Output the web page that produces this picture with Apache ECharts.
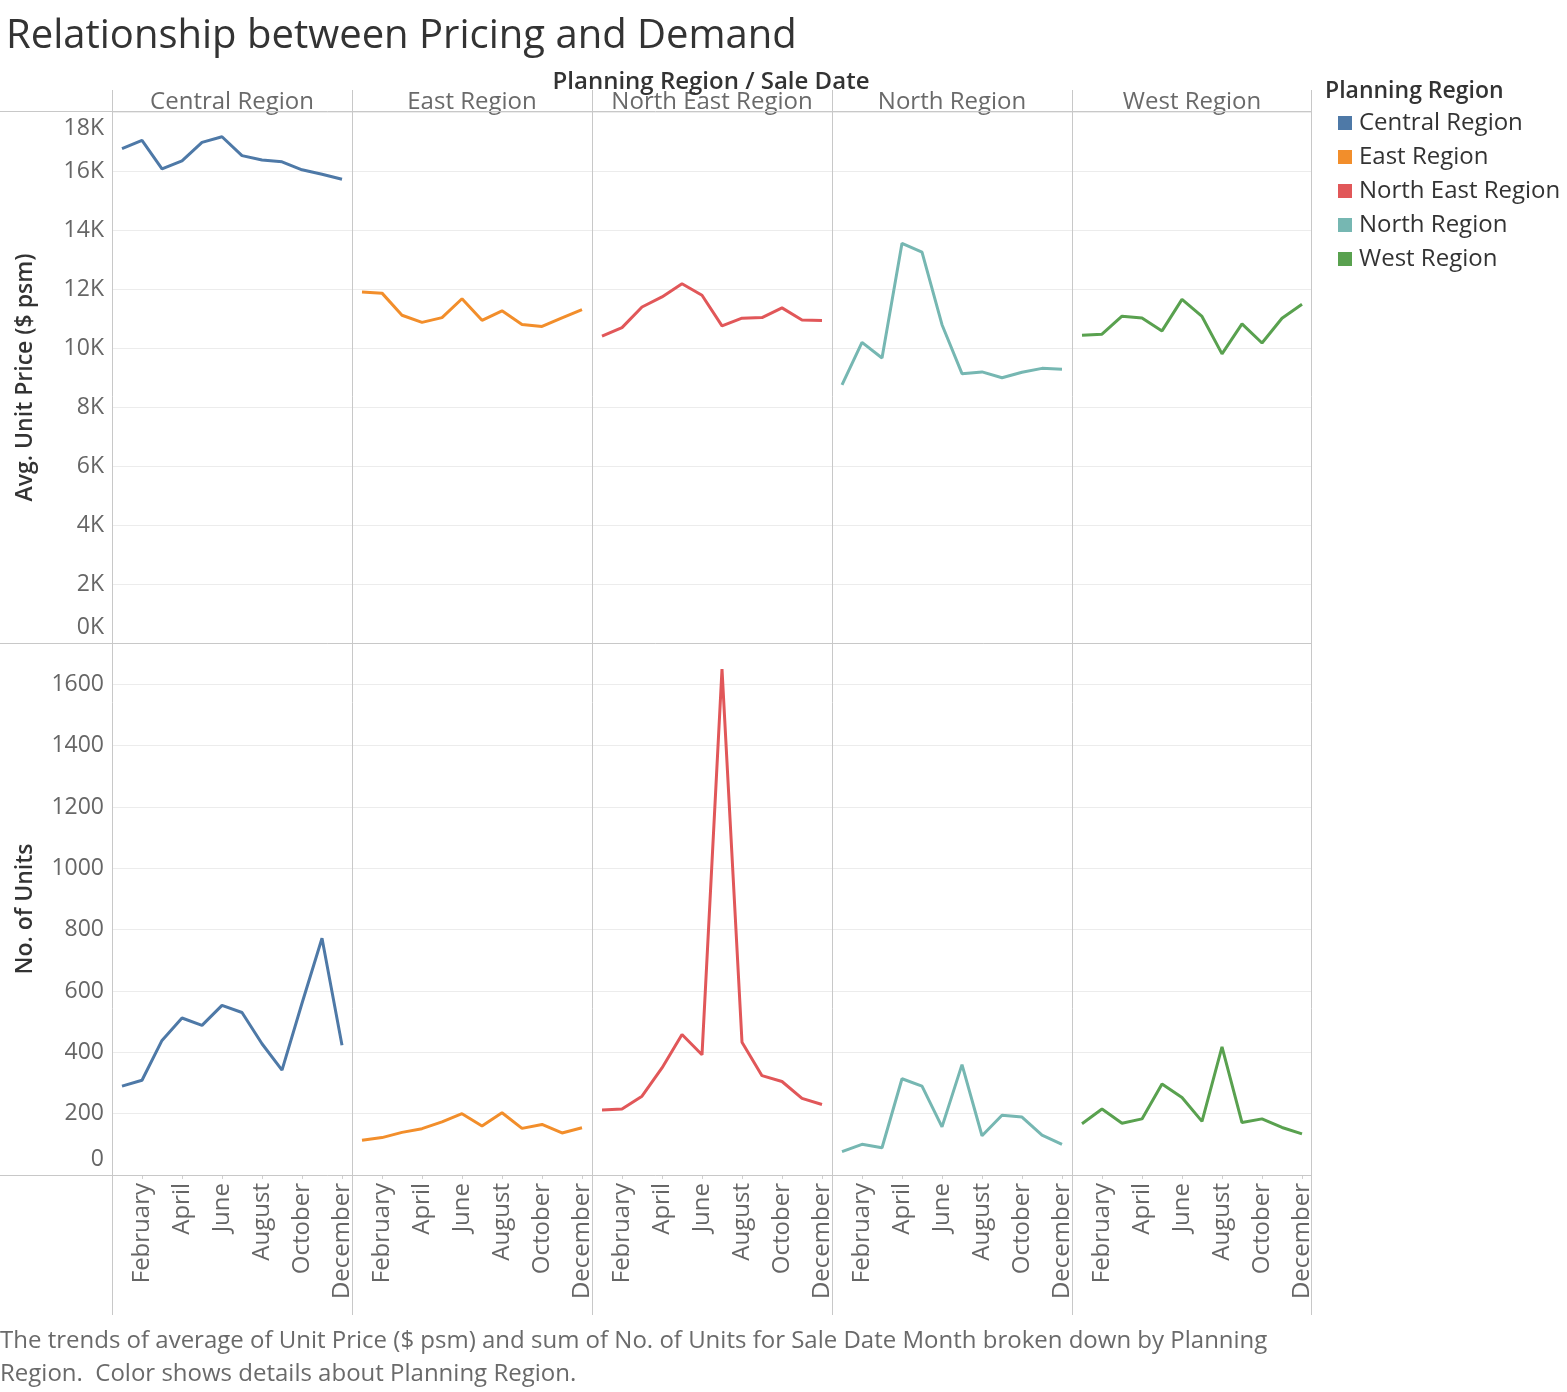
<!DOCTYPE html>
<html>
<head>
<meta charset="utf-8">
<script src="https://cdn.jsdelivr.net/npm/echarts@6/dist/echarts.min.js"></script>
<style>
html,body{margin:0;padding:0;background:#fff;}
#chart{width:1567px;height:1392px;}
</style>
</head>
<body>
<div id="chart"></div>
<script>
// ---- data ----
var months = ['January','February','March','April','May','June','July','August','September','October','November','December'];
var regions = ['Central Region','East Region','North East Region','North Region','West Region'];
var colors = ['#4e79a7','#f28e2b','#e15759','#76b7b2','#59a14f'];

var priceCentral   = [16760,17040,16070,16340,16970,17160,16520,16370,16310,16040,15890,15720];
var priceEast      = [11900,11860,11110,10870,11030,11670,10940,11260,10800,10730,11020,11300];
var priceNorthEast = [10400,10690,11390,11730,12180,11790,10750,11010,11030,11360,10950,10930];
var priceNorth     = [8750,10190,9660,13550,13250,10790,9130,9190,8990,9180,9310,9280];
var priceWest      = [10430,10470,11080,11020,10580,11650,11070,9800,10820,10170,11010,11480];

var unitsCentral   = [290,309,439,512,488,553,530,428,342,560,772,423];
var unitsEast      = [113,122,139,151,173,200,160,203,152,165,137,154];
var unitsNorthEast = [212,215,257,349,458,392,1650,433,324,305,250,230];
var unitsNorth     = [76,100,89,314,290,157,360,128,195,189,130,100];
var unitsWest      = [167,215,169,183,297,253,175,418,171,183,155,134];

var priceTicks = [0,2000,4000,6000,8000,10000,12000,14000,16000,18000];
var unitTicks  = [0,200,400,600,800,1000,1200,1400,1600];

var priceSeries = [priceCentral, priceEast, priceNorthEast, priceNorth, priceWest];
var unitSeries  = [unitsCentral, unitsEast, unitsNorthEast, unitsNorth, unitsWest];

// ---- layout ----
var FONT = "'Open Sans', 'Noto Sans', sans-serif";
var colLeft = 112, colW = 240;
var rowTop = [112, 643], rowH = [531, 532];
var priceMax = 18000, unitMax = 1735;
var lineCol = '#c8c8c8', gridCol = '#ececec', tickCol = '#666666';

var chart = echarts.init(document.getElementById('chart'));

var grids = [], xAxes = [], yAxes = [], series = [];
for (var r = 0; r < 2; r++) {
  for (var c = 0; c < 5; c++) {
    var idx = r * 5 + c;
    grids.push({left: colLeft + c * colW, top: rowTop[r], width: colW, height: rowH[r], containLabel: false});
    xAxes.push({
      type: 'category', gridIndex: idx, data: months, boundaryGap: true,
      axisLine: {show: false},
      axisTick: {show: r === 1, interval: function (i) { return i % 2 === 1; }, alignWithLabel: true, length: 4, lineStyle: {color: '#d0d0d0'}},
      axisLabel: {
        show: r === 1, rotate: 90, interval: function (i) { return i % 2 === 1; },
        margin: 8, fontSize: 24, fontFamily: FONT, color: tickCol
      },
      splitLine: {show: false}
    });
    var isPrice = r === 0;
    yAxes.push({
      type: 'value', gridIndex: idx, min: 0, max: isPrice ? priceMax : unitMax,
      interval: isPrice ? 2000 : 200,
      axisLine: {show: false}, axisTick: {show: false},
      splitLine: {show: true, lineStyle: {color: gridCol, width: 1}},
      axisLabel: {
        show: c === 0, margin: 8, fontSize: 23, fontFamily: FONT, color: tickCol, lineHeight: 32,
        formatter: (function (price) {
          return function (v) {
            if (price) {
              if (priceTicks.indexOf(v) < 0) return '';
              var s = (v / 1000) + 'K';
              if (v === priceMax) return '\n' + s;
              if (v === 0) return s + '\n';
              return s;
            } else {
              if (unitTicks.indexOf(v) < 0) return '';
              if (v === 0) return '0\n';
              return String(v);
            }
          };
        })(isPrice)
      },
      name: c === 0 ? (isPrice ? 'Avg. Unit Price ($ psm)' : 'No. of Units') : '',
      nameLocation: 'middle', nameRotate: 90, nameGap: 75,
      nameTextStyle: {fontSize: 23, fontFamily: FONT, fontWeight: 600, color: '#333333'}
    });
    series.push({
      name: regions[c], type: 'line', xAxisIndex: idx, yAxisIndex: idx,
      data: isPrice ? priceSeries[c] : unitSeries[c],
      showSymbol: false, symbol: 'none',
      lineStyle: {color: colors[c], width: 3},
      itemStyle: {color: colors[c]},
      emphasis: {disabled: true}, animation: false
    });
  }
}

// structural lines and header text
var graphics = [];
var colEdges = [112, 352, 592, 832, 1072, 1311];
colEdges.forEach(function (x) {
  graphics.push({type: 'line', shape: {x1: x + 0.5, y1: 90, x2: x + 0.5, y2: 1315}, style: {stroke: lineCol, lineWidth: 1}, z: 10});
});
[111, 643, 1175].forEach(function (y) {
  graphics.push({type: 'line', shape: {x1: 0, y1: y + 0.5, x2: 1311, y2: y + 0.5}, style: {stroke: lineCol, lineWidth: 1}, z: 10});
});
regions.forEach(function (name, c) {
  graphics.push({type: 'text', x: colLeft + c * colW + colW / 2, y: 102, style: {text: name, fill: '#6a6a6a', font: '24px ' + FONT, align: 'center', verticalAlign: 'middle'}, z: 5});
});
graphics.push({type: 'text', x: 711, y: 82, style: {text: 'Planning Region / Sale Date', fill: '#333333', font: '600 24px ' + FONT, align: 'center', verticalAlign: 'middle'}, z: 12});
graphics.push({type: 'text', x: 6, y: 37, style: {text: 'Relationship between Pricing and Demand', fill: '#333333', font: '40px ' + FONT, align: 'left', verticalAlign: 'middle'}});
graphics.push({type: 'text', x: 1325, y: 91, style: {text: 'Planning Region', fill: '#333333', font: '600 23px ' + FONT, align: 'left', verticalAlign: 'middle'}});
graphics.push({type: 'text', x: 0, y: 1341, style: {text: 'The trends of average of Unit Price ($ psm) and sum of No. of Units for Sale Date Month broken down by Planning', fill: '#6a6a6a', font: '24px ' + FONT, align: 'left', verticalAlign: 'middle'}});
graphics.push({type: 'text', x: 0, y: 1374, style: {text: 'Region.  Color shows details about Planning Region.', fill: '#6a6a6a', font: '24px ' + FONT, align: 'left', verticalAlign: 'middle'}});

chart.setOption({
  animation: false,
  backgroundColor: '#ffffff',
  grid: grids, xAxis: xAxes, yAxis: yAxes, series: series,
  legend: {
    data: regions, orient: 'vertical', left: 1333, top: 106,
    icon: 'rect', itemWidth: 14, itemHeight: 14, itemGap: 10,
    selectedMode: false,
    textStyle: {fontSize: 24, fontFamily: FONT, color: '#333333', lineHeight: 22, padding: [0, 0, 0, 2]}
  },
  graphic: graphics
});
</script>
</body>
</html>
